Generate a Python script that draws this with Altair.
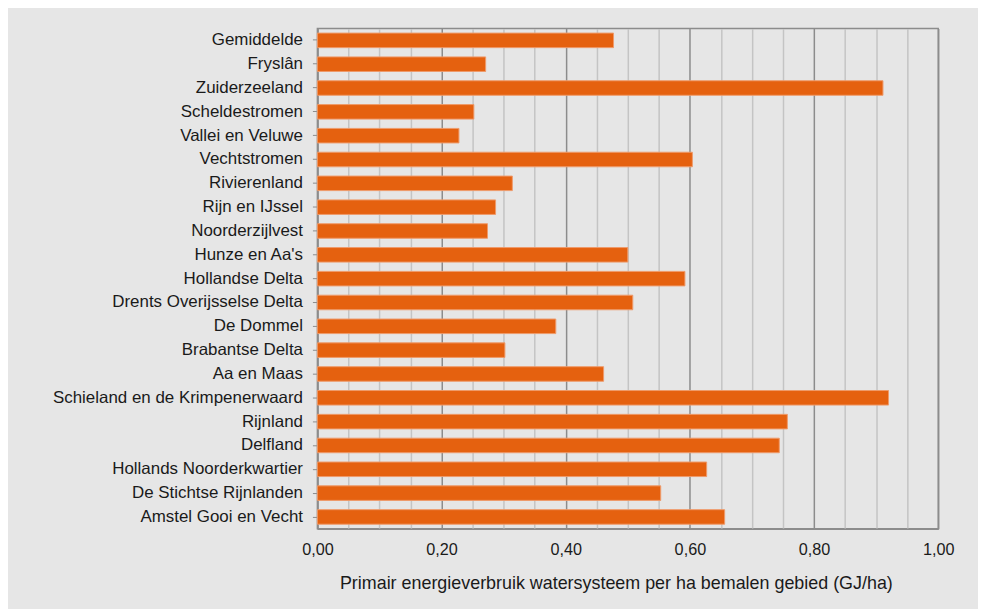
import altair as alt
import pandas as pd

categories = [
    "Gemiddelde", "Fryslân", "Zuiderzeeland", "Scheldestromen", "Vallei en Veluwe",
    "Vechtstromen", "Rivierenland", "Rijn en IJssel", "Noorderzijlvest", "Hunze en Aa's",
    "Hollandse Delta", "Drents Overijsselse Delta", "De Dommel", "Brabantse Delta",
    "Aa en Maas", "Schieland en de Krimpenerwaard", "Rijnland", "Delfland",
    "Hollands Noorderkwartier", "De Stichtse Rijnlanden", "Amstel Gooi en Vecht",
]
values = [
    0.477, 0.271, 0.911, 0.252, 0.228,
    0.604, 0.314, 0.287, 0.274, 0.500,
    0.592, 0.508, 0.384, 0.302,
    0.461, 0.920, 0.757, 0.744,
    0.627, 0.553, 0.656,
]
grid_values = [round(i * 0.05, 2) for i in range(21)]

x_title = "Primair energieverbruik watersysteem per ha bemalen gebied (GJ/ha)"

df = pd.DataFrame({"name": categories, "value": values})

FONT = "Liberation Sans"
MAJOR = "#8c8c8c"
MINOR = "#c4c4c4"

major_test = "round(datum.value * 100) % 20 == 0"

chart = alt.Chart(df).mark_bar(
    color="#e5610f", stroke="#ef9a6a", strokeWidth=1
).encode(
    x=alt.X(
        "value:Q",
        scale=alt.Scale(domain=[0, 1], nice=False, zero=True),
        axis=alt.Axis(
            values=grid_values,
            title=x_title,
            labelExpr=f"{major_test} ? replace(format(datum.value, '.2f'), '.', ',') : ''",
            ticks=False,
            grid=True,
            gridColor=alt.condition(major_test, alt.value(MAJOR), alt.value(MINOR)),
            gridWidth=1.5,
            domainColor=MAJOR,
            domainWidth=1.5,
            labelFont=FONT,
            labelFontSize=16.3,
            labelColor="#1a1a1a",
            labelPadding=13,
            titleFont=FONT,
            titleFontSize=18,
            titleFontWeight="normal",
            titleColor="#1a1a1a",
            titlePadding=17,
            titleX=300,
            titleAlign="center",
            labelFlush=False,
        ),
    ),
    y=alt.Y(
        "name:N",
        sort=None,
        scale=alt.Scale(paddingInner=0.39, paddingOuter=0.195),
        axis=alt.Axis(
            title=None,
            grid=False,
            ticks=True,
            tickSize=5,
            tickColor=MAJOR,
            tickWidth=1,
            domainColor=MAJOR,
            domainWidth=1.5,
            labelFont=FONT,
            labelFontSize=17,
            labelColor="#1a1a1a",
            labelPadding=10,
            labelLimit=400,
        ),
    ),
).properties(
    width=624,
    height=503,
    background="#e6e6e6",
    padding={"left": 311, "top": 19, "right": 40, "bottom": 79},
    autosize=alt.AutoSizeParams(type="none"),
).configure_view(
    stroke=MAJOR,
    strokeWidth=1.5,
    fill="#e6e6e6",
)

chart.save("out.html", embed_options={"renderer": "svg", "actions": False})
